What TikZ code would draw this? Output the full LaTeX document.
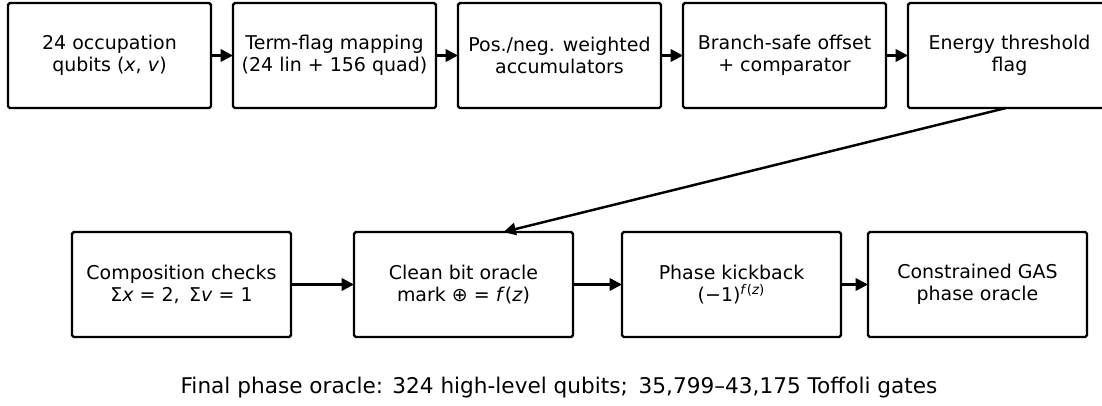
\documentclass[tikz,border=0pt]{standalone}
\usepackage{fontspec}
\setmainfont{DejaVu Sans}
\usetikzlibrary{arrows.meta,positioning}

\begin{document}
\begin{tikzpicture}[
    stage/.style={rectangle, draw=black, fill=white, text centered, rounded corners=1pt, line width=1.4pt, outer sep=0pt, font=\fontsize{10.8}{12.6}\selectfont, align=center, inner sep=2pt},
    topbox/.style={stage, minimum width=4.06cm, minimum height=2.1cm},
    botbox/.style={stage, minimum width=4.38cm, minimum height=2.1cm},
    arrow/.style={-{Triangle[length=7pt,width=7pt]}, line width=1.4pt, draw=black}
]
\useasboundingbox (0,0) rectangle (22.04,-8.1);

% Row 1: energy evaluation pipeline
\node[topbox, anchor=north west] (occ) at (0.16,-0.06) {24 occupation\\qubits (\textit{x}, \textit{v})};
\node[topbox, right=0.44cm of occ] (termflag) {Term-flag mapping\\(24 lin + 156 quad)};
\node[topbox, right=0.44cm of termflag] (accum) {Pos./neg. weighted\\accumulators};
\node[topbox, right=0.44cm of accum] (offset) {Branch-safe offset\\+ comparator};
\node[topbox, right=0.44cm of offset] (flag) {Energy threshold\\flag};

% Row 2: oracle assembly
\node[botbox, anchor=north west] (comp) at (1.44,-4.64) {Composition checks\\Σ\textit{x} = 2,\enspace Σ\textit{v} = 1};
\node[botbox, right=1.26cm of comp] (clean) {Clean bit oracle\\mark ⊕ = \textit{f}(\textit{z})};
\node[botbox, right=0.98cm of clean] (kick) {Phase kickback\\(−1)\textsuperscript{\textit{f}(\textit{z})}};
\node[botbox, right=0.54cm of kick] (gas) {Constrained GAS\\phase oracle};

% Summary line
\node[font=\fontsize{12.3}{14}\selectfont] (summary) at (11.18,-7.76) {Final phase oracle: 324 high-level qubits;\enspace 35,799–43,175 Toffoli gates};

% Connectors
\coordinate (cleanin) at ([xshift=0.8cm]clean.north);
\draw[arrow] (occ) -- (termflag);
\draw[arrow] (termflag) -- (accum);
\draw[arrow] (accum) -- (offset);
\draw[arrow] (offset) -- (flag);
\draw[arrow] ([xshift=-0.07cm]flag.south) -- (cleanin);
\draw[arrow] (comp) -- (clean);
\draw[arrow] (clean) -- (kick);
\draw[arrow] (kick) -- (gas);

\end{tikzpicture}
\end{document}
